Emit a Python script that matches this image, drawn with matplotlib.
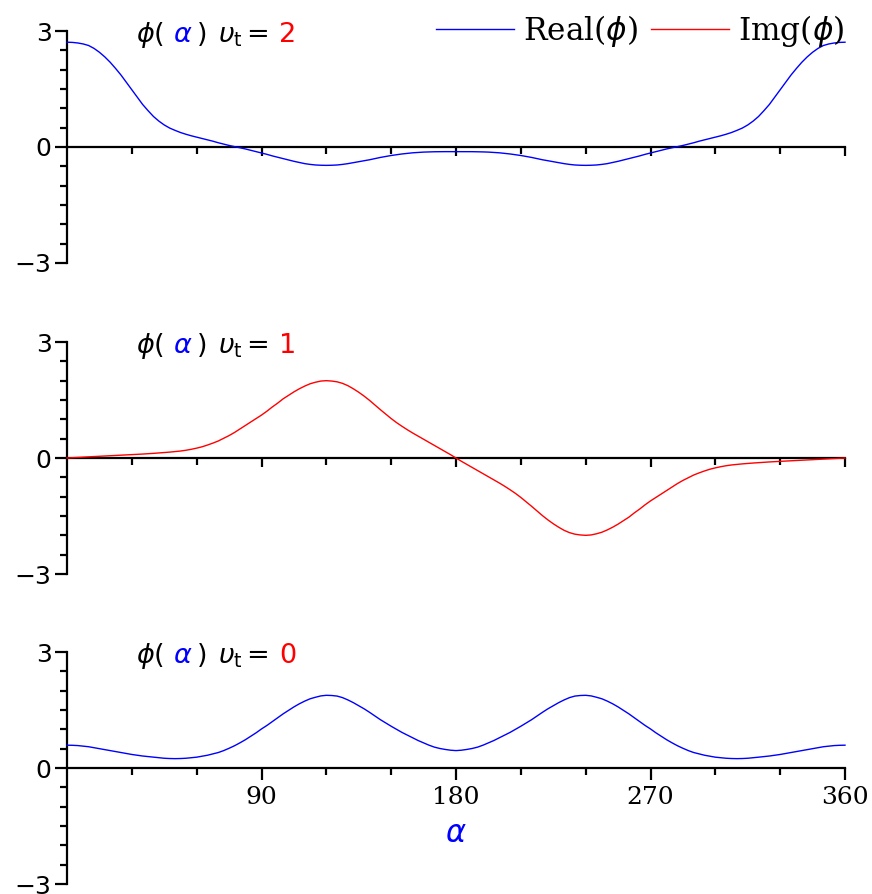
import numpy as np
import matplotlib
matplotlib.use("Agg")
import matplotlib.pyplot as plt
from matplotlib.ticker import FixedLocator, NullFormatter

### DATA ###
alpha_deg = [i * 2.5 for i in range(145)]

# v_t = 2, real part
real_vt2 = [2.71, 2.705, 2.69, 2.665, 2.625, 2.55, 2.45, 2.33, 2.19, 2.03,
            1.86, 1.67, 1.48, 1.29, 1.10, 0.94, 0.79, 0.67, 0.57, 0.49,
            0.43, 0.375, 0.33, 0.29, 0.255, 0.22, 0.185, 0.15, 0.11, 0.075,
            0.04, 0.01, -0.02, -0.05, -0.085, -0.12, -0.155, -0.19, -0.23, -0.265,
            -0.30, -0.335, -0.37, -0.40, -0.43, -0.45, -0.465, -0.472, -0.475, -0.472,
            -0.465, -0.45, -0.43, -0.405, -0.38, -0.355, -0.33, -0.30, -0.27, -0.245,
            -0.22, -0.2, -0.18, -0.165, -0.15, -0.14, -0.132, -0.127, -0.123, -0.121,
            -0.12, -0.12, -0.12,
            -0.12, -0.12,
            -0.121, -0.123, -0.127, -0.132, -0.14, -0.15, -0.165, -0.18, -0.2, -0.22,
            -0.245, -0.27, -0.30, -0.33, -0.355, -0.38, -0.405, -0.43, -0.45, -0.465,
            -0.472, -0.475, -0.472, -0.465, -0.45, -0.43, -0.40, -0.37, -0.335, -0.30,
            -0.265, -0.23, -0.19, -0.155, -0.12, -0.085, -0.05, -0.02, 0.01, 0.04,
            0.075, 0.11, 0.15, 0.185, 0.22, 0.255, 0.29, 0.33, 0.375, 0.43,
            0.49, 0.57, 0.67, 0.79, 0.94, 1.10, 1.29, 1.48, 1.67, 1.86,
            2.03, 2.19, 2.33, 2.45, 2.55, 2.625, 2.665, 2.69, 2.705, 2.71]

# v_t = 1, imaginary part
imag_vt1 = [0.000, 0.008, 0.015, 0.022, 0.03, 0.037, 0.044, 0.051, 0.058, 0.065,
            0.072, 0.079, 0.086, 0.094, 0.102, 0.11, 0.12, 0.13, 0.14, 0.152,
            0.165, 0.18, 0.20, 0.225, 0.255, 0.29, 0.335, 0.385, 0.44, 0.51,
            0.58, 0.66, 0.75, 0.84, 0.93, 1.02, 1.11, 1.21, 1.32, 1.42,
            1.53, 1.62, 1.71, 1.79, 1.86, 1.92, 1.96, 1.99, 2.00, 1.99,
            1.97, 1.93, 1.87, 1.79, 1.70, 1.60, 1.49, 1.37, 1.25, 1.135,
            1.02, 0.915, 0.82, 0.73, 0.645, 0.565, 0.485, 0.405, 0.325, 0.245,
            0.165, 0.085, 0.00,
            -0.085, -0.165,
            -0.245, -0.325, -0.405, -0.485, -0.565, -0.645, -0.73, -0.82, -0.915, -1.02,
            -1.135, -1.25, -1.37, -1.49, -1.60, -1.70, -1.79, -1.87, -1.93, -1.97,
            -1.99, -2.00, -1.99, -1.96, -1.92, -1.86, -1.79, -1.71, -1.62, -1.53,
            -1.42, -1.32, -1.21, -1.11, -1.02, -0.93, -0.84, -0.75, -0.66, -0.58,
            -0.51, -0.44, -0.385, -0.335, -0.29, -0.255, -0.225, -0.20, -0.18, -0.165,
            -0.152, -0.14, -0.13, -0.12, -0.11, -0.102, -0.094, -0.086, -0.079, -0.072,
            -0.065, -0.058, -0.051, -0.044, -0.037, -0.03, -0.022, -0.015, -0.008, 0.000]

# v_t = 0, real part
real_vt0 = [0.59, 0.587, 0.58, 0.565, 0.55, 0.525, 0.50, 0.475, 0.45, 0.425,
            0.40, 0.375, 0.35, 0.33, 0.31, 0.295, 0.28, 0.265, 0.252, 0.245,
            0.242, 0.245, 0.252, 0.265, 0.28, 0.305, 0.33, 0.365, 0.40, 0.45,
            0.51, 0.575, 0.65, 0.73, 0.82, 0.91, 1.01, 1.10, 1.20, 1.30,
            1.40, 1.49, 1.58, 1.66, 1.73, 1.79, 1.83, 1.865, 1.88, 1.875,
            1.86, 1.82, 1.76, 1.69, 1.61, 1.53, 1.44, 1.345, 1.25, 1.165,
            1.08, 1.00, 0.92, 0.85, 0.78, 0.71, 0.65, 0.59, 0.54, 0.505,
            0.48, 0.46, 0.45,
            0.46, 0.48,
            0.505, 0.54, 0.59, 0.65, 0.71, 0.78, 0.85, 0.92, 1.00, 1.08,
            1.165, 1.25, 1.345, 1.44, 1.53, 1.61, 1.69, 1.76, 1.82, 1.86,
            1.875, 1.88, 1.865, 1.83, 1.79, 1.73, 1.66, 1.58, 1.49, 1.40,
            1.30, 1.20, 1.10, 1.01, 0.91, 0.82, 0.73, 0.65, 0.575, 0.51,
            0.45, 0.40, 0.365, 0.33, 0.305, 0.28, 0.265, 0.252, 0.245, 0.242,
            0.245, 0.252, 0.265, 0.28, 0.295, 0.31, 0.33, 0.35, 0.375, 0.40,
            0.425, 0.45, 0.475, 0.50, 0.525, 0.55, 0.565, 0.58, 0.587, 0.59]

panel_vt = ["2", "1", "0"]
panel_series = [real_vt2, imag_vt1, real_vt0]
panel_colors = ["blue", "red", "blue"]

### LAYOUT ###
W, H = 872, 894
left_px, width_px, height_px = 67, 778, 232
tops_px = [31, 342, 652]

fig = plt.figure(figsize=(W / 100, H / 100), dpi=100)

axes = []
lines = []
for i in range(3):
    ax = fig.add_axes([left_px / W, 1 - (tops_px[i] + height_px) / H,
                       width_px / W, height_px / H])
    ln, = ax.plot(alpha_deg, panel_series[i], color=panel_colors[i], lw=1.0,
                  clip_on=False, zorder=3)
    lines.append(ln)
    ax.set_xlim(0, 360)
    ax.set_ylim(-3, 3)
    for s in ["top", "right"]:
        ax.spines[s].set_visible(False)
    ax.spines["left"].set_position(("data", 0))
    ax.spines["bottom"].set_position(("data", 0))
    ax.spines["left"].set_linewidth(1.6)
    ax.spines["bottom"].set_linewidth(1.6)
    ax.patch.set_visible(False)

    ax.xaxis.set_major_locator(FixedLocator([90, 180, 270, 360]))
    ax.xaxis.set_minor_locator(FixedLocator([30, 60, 120, 150, 210, 240, 300, 330]))
    ax.yaxis.set_major_locator(FixedLocator([-3, 0, 3]))
    ax.yaxis.set_minor_locator(FixedLocator([-2.5, -2, -1.5, -1, -0.5, 0.5, 1, 1.5, 2, 2.5]))
    ax.set_yticklabels(["\u22123", "0", "3"], fontsize=18, family="DejaVu Sans")
    ax.tick_params(axis="y", which="major", direction="out", length=9, width=1.6, pad=2)
    ax.tick_params(axis="y", which="minor", direction="out", length=5, width=1.6)
    if i < 2:
        ax.xaxis.set_major_formatter(NullFormatter())
        ax.tick_params(axis="x", which="major", direction="out", length=6.5, width=1.6)
    else:
        ax.set_xticklabels(["90", "180", "270", "360"], fontsize=18, family="DejaVu Serif")
        ax.tick_params(axis="x", which="major", direction="out", length=8.6, width=1.6, pad=4)
    ax.tick_params(axis="x", which="minor", direction="out", length=5, width=1.6)

    # title pieces: phi(alpha)  v_t = n
    pieces = [(r"$\phi($", "black", 69), (r"$\alpha$", "blue", 106),
              (r"$)$", "black", 129), (r"$\upsilon_{\mathrm{t}}$", "black", 151),
              ("=", "black", 179), (panel_vt[i], "red", 212)]
    for txt, col, dx in pieces:
        ax.annotate(txt, xy=(0, 1), xycoords="axes fraction", xytext=(dx, -11),
                    textcoords="offset pixels", ha="left", va="baseline",
                    fontsize=19.5, color=col)
    axes.append(ax)

axes[2].set_xlabel(r"$\alpha$", color="blue", fontsize=22, labelpad=2)
axes[2].xaxis.set_label_coords(0.5, 0.28)

leg = axes[0].legend([lines[0], lines[1]], [r"Real($\phi$)", r"Img($\phi$)"],
                     loc="center right", bbox_to_anchor=(1.0, 1.0), ncol=2,
                     frameon=False, borderaxespad=0, borderpad=0,
                     handlelength=2.5, handletextpad=0.3, columnspacing=0.4,
                     prop={"family": "DejaVu Serif", "size": 22.5})
for lh in leg.get_lines():
    lh.set_linewidth(1.0)

fig.savefig("out.png", dpi=100)
